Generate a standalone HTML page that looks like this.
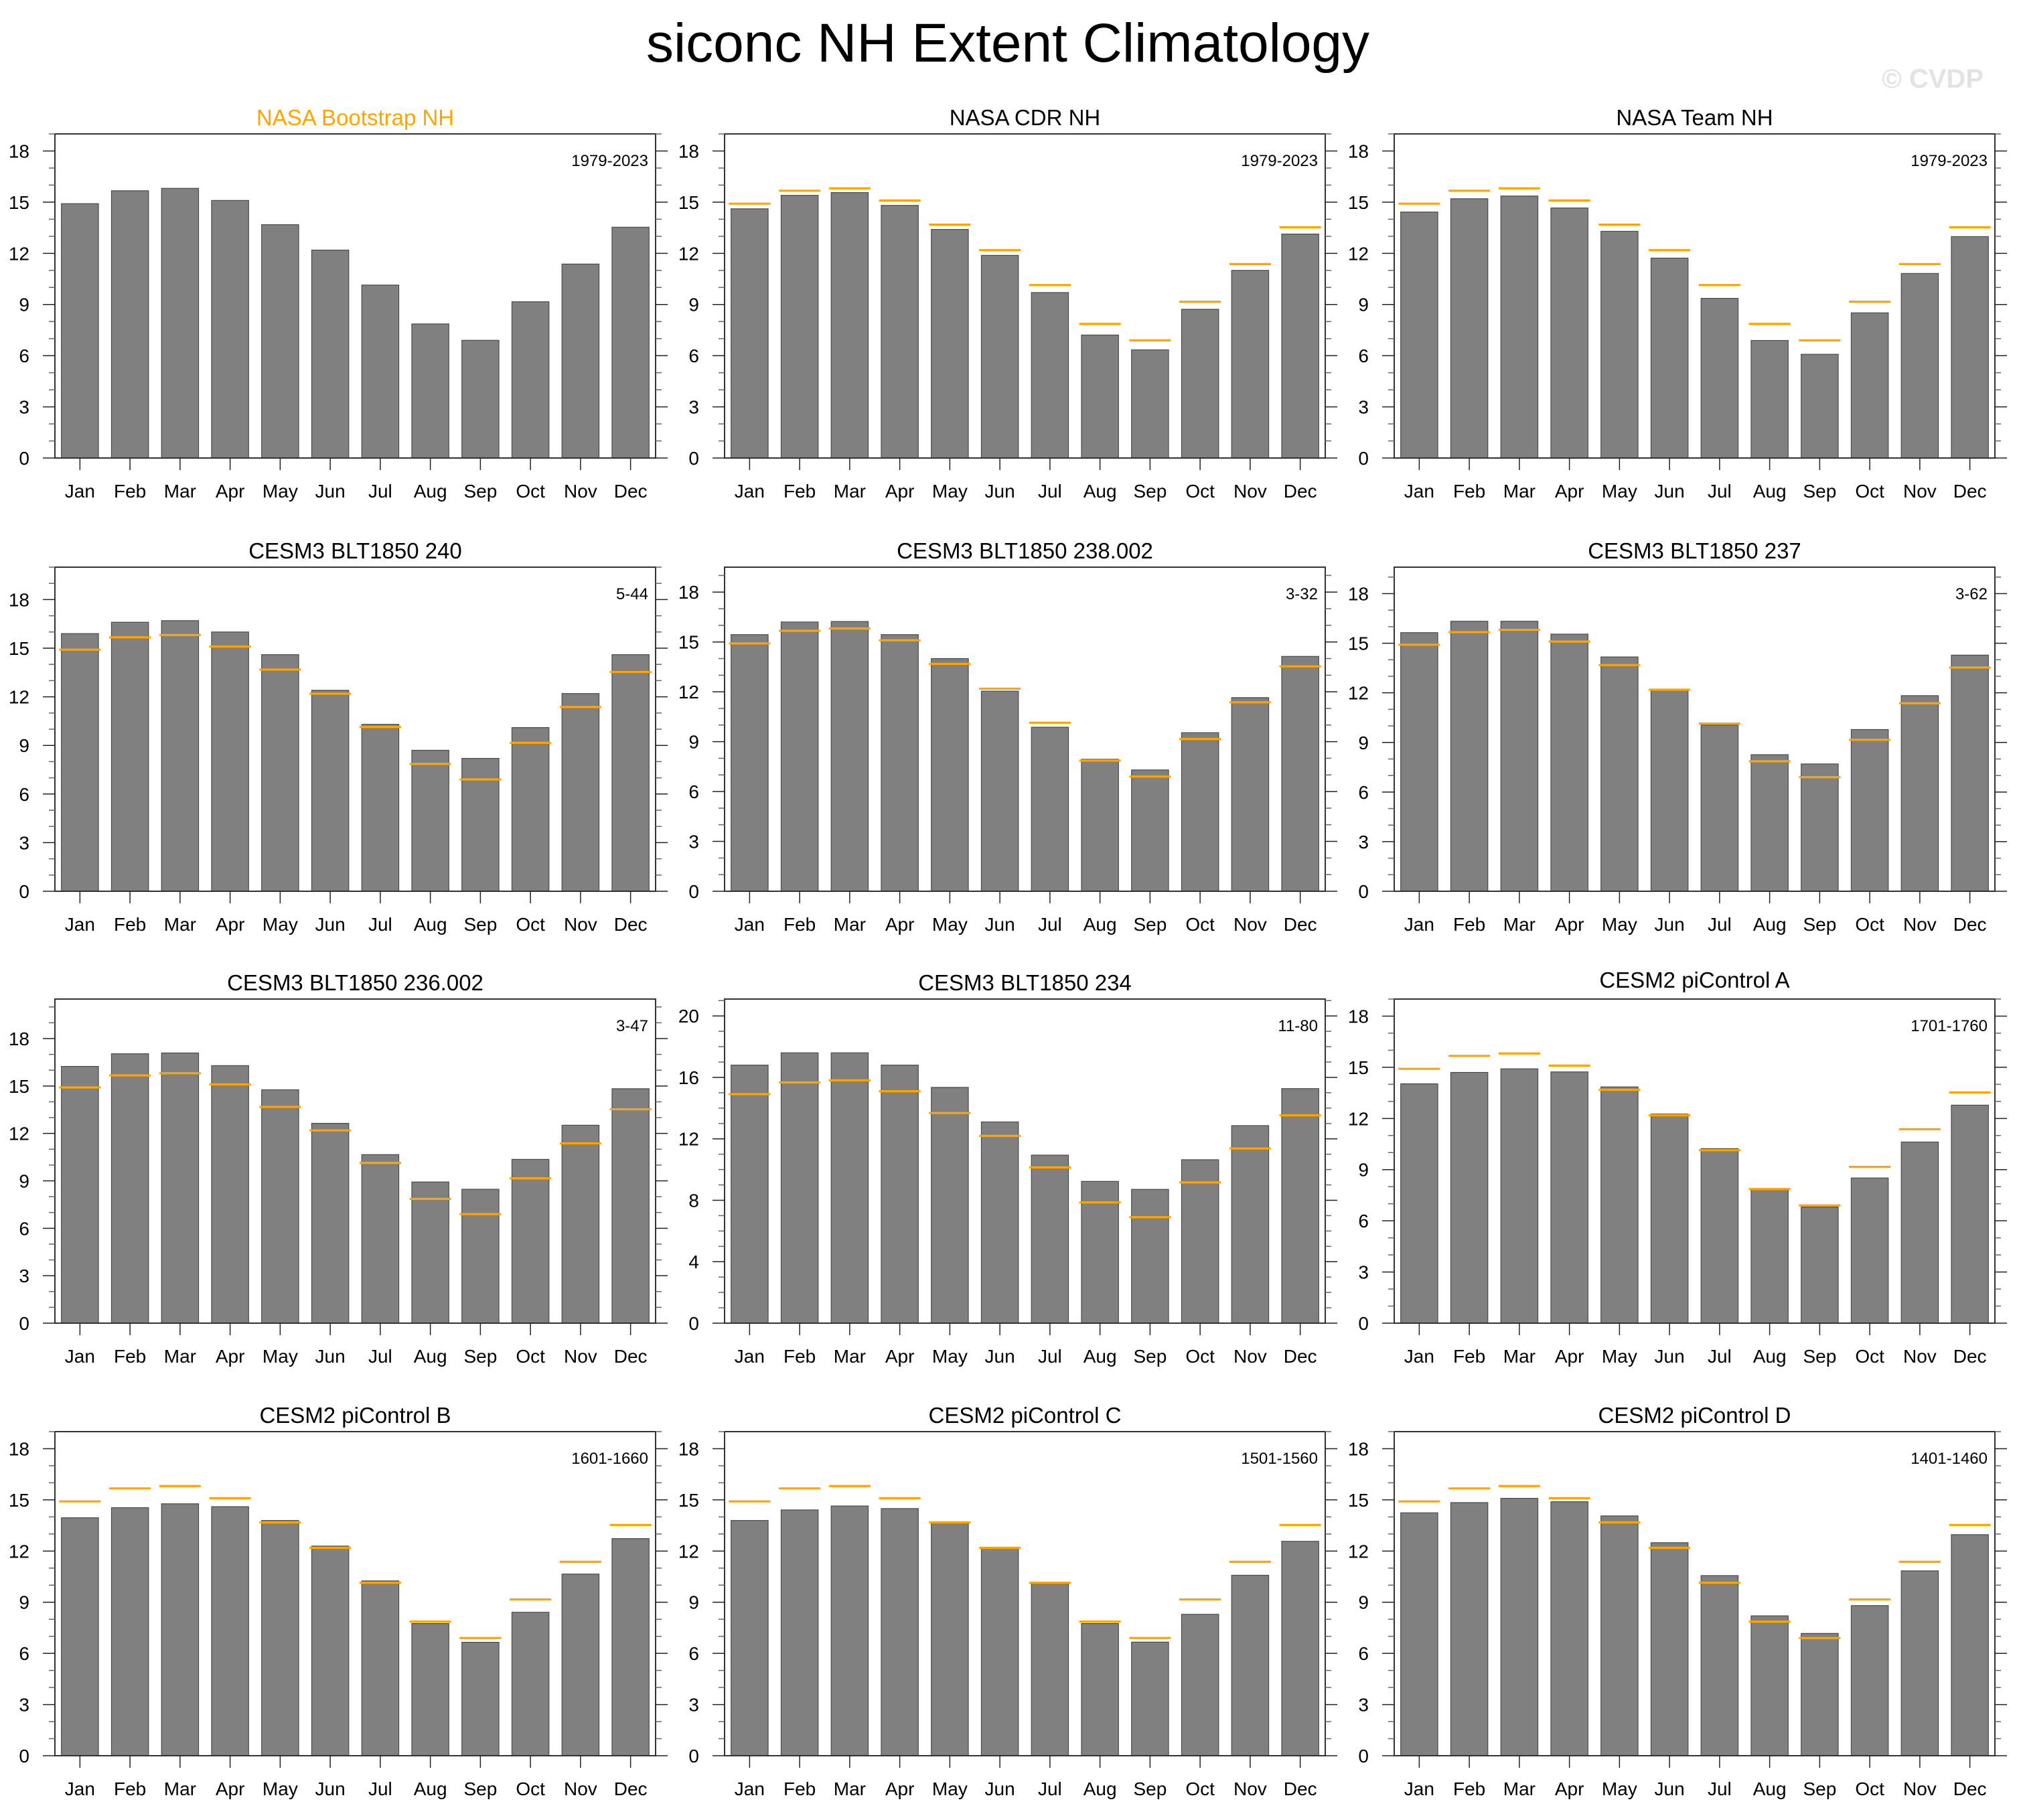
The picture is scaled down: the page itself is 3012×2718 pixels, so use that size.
<!DOCTYPE html>
<html><head><meta charset="utf-8"><style>
html,body{margin:0;padding:0;background:#fff;}
svg{display:block;font-family:"Liberation Sans",sans-serif;}
</style></head><body>
<svg id="fig" width="3012" height="2718" viewBox="0 0 3012 2718" xmlns="http://www.w3.org/2000/svg">
<text x="1505" y="92" font-size="82" text-anchor="middle" fill="#000">siconc NH Extent Climatology</text>
<text x="2962" y="131" font-size="40" font-weight="bold" text-anchor="end" fill="#e3e3e3">© CVDP</text>
</svg>
<script>
const months = ["Jan","Feb","Mar","Apr","May","Jun","Jul","Aug","Sep","Oct","Nov","Dec"];
const obsBootstrap = [14.91,15.67,15.81,15.10,13.68,12.19,10.14,7.86,6.90,9.16,11.37,13.53];
const valsBootstrap = [14.91,15.67,15.81,15.10,13.68,12.19,10.14,7.86,6.90,9.16,11.37,13.53];
const valsCDR = [14.61,15.40,15.56,14.81,13.40,11.88,9.70,7.21,6.34,8.72,11.00,13.13];
const valsTeam = [14.42,15.20,15.36,14.66,13.29,11.72,9.36,6.89,6.08,8.51,10.82,12.98];
const vals240 = [15.9,16.6,16.7,16.0,14.6,12.4,10.3,8.7,8.2,10.1,12.2,14.6];
const vals238 = [15.44,16.2,16.23,15.44,14.0,12.04,9.87,7.94,7.3,9.54,11.65,14.13];
const vals237 = [15.64,16.33,16.33,15.55,14.17,12.22,10.05,8.26,7.7,9.78,11.83,14.28];
const vals236 = [16.24,17.04,17.09,16.29,14.76,12.64,10.66,8.93,8.47,10.36,12.52,14.83];
const vals234 = [16.8,17.6,17.6,16.8,15.35,13.1,10.94,9.23,8.71,10.64,12.86,15.27];
const valsPiA = [14.03,14.70,14.91,14.73,13.85,12.26,10.23,7.86,6.81,8.51,10.62,12.78];
const valsPiB = [13.95,14.54,14.77,14.60,13.79,12.29,10.25,7.75,6.65,8.41,10.65,12.73];
const valsPiC = [13.79,14.41,14.64,14.49,13.67,12.19,10.16,7.75,6.66,8.29,10.58,12.57];
const valsPiD = [14.24,14.84,15.09,14.89,14.06,12.49,10.56,8.20,7.17,8.80,10.84,12.96];
const panelTitles = ["NASA Bootstrap NH","NASA CDR NH","NASA Team NH","CESM3 BLT1850 240","CESM3 BLT1850 238.002","CESM3 BLT1850 237","CESM3 BLT1850 236.002","CESM3 BLT1850 234","CESM2 piControl A","CESM2 piControl B","CESM2 piControl C","CESM2 piControl D"];
const panelYears = ["1979-2023","1979-2023","1979-2023","5-44","3-32","3-62","3-47","11-80","1701-1760","1601-1660","1501-1560","1401-1460"];
const panelYMax = [19,19,19,20,19.5,19.6,20.5,21.1,19,19,19,19];
const panelYStep = [3,3,3,3,3,3,3,4,3,3,3,3];
const panelValues = [valsBootstrap,valsCDR,valsTeam,vals240,vals238,vals237,vals236,vals234,valsPiA,valsPiB,valsPiC,valsPiD];

const NS="http://www.w3.org/2000/svg";
const svg=document.getElementById('fig');
function mk(tag,attrs,parent){const e=document.createElementNS(NS,tag);for(const k in attrs)e.setAttribute(k,attrs[k]);(parent||svg).appendChild(e);return e;}
const colX=[82,1082,2082], rowTop=[200,847,1492,2138], W=897, H=484;

panelValues.forEach((vals,p)=>{
  const L=colX[p%3], T=rowTop[Math.floor(p/3)], B=T+H, R=L+W;
  const ymax=panelYMax[p];
  const y=v=>B-v/ymax*H;
  const step=W/12;
  const x=i=>L+step*(i+0.5);
  const g=mk('g',{});
  
  
  const tt=mk('text',{x:L+W/2,y:T-(p===8?17:13),'font-size':33,'text-anchor':'middle',fill:p===0?'#FFA500':'#000'},g);
  tt.textContent=panelTitles[p];
  
  
  vals.forEach((v,i)=>{
    const r=mk('rect',{x:x(i)-step*0.37,y:y(v),width:step*0.74,height:B-y(v),fill:'#808080',stroke:'#4a4a4a','stroke-width':1.2},g);
    
    
  });
  if(p>0){
    obsBootstrap.forEach((v,i)=>{
      const l=mk('line',{x1:x(i)-step*0.415,x2:x(i)+step*0.415,y1:y(v),y2:y(v),stroke:'#FFA500','stroke-width':3.2},g);
      
      
    });
  }
  const f=mk('rect',{x:L,y:T,width:W,height:H,fill:'none',stroke:'#333','stroke-width':2},g);
  
  
  for(let v=0;v<=ymax+1e-6;v+=1){
    const major=(v%panelYStep[p]===0);
    const len=major?18:9;
    mk('line',{x1:L-len,x2:L,y1:y(v),y2:y(v),stroke:major?'#222':'#666','stroke-width':1.5},g);
    mk('line',{x1:R,x2:R+len,y1:y(v),y2:y(v),stroke:major?'#222':'#666','stroke-width':1.5},g);
    if(major){
      const t=mk('text',{x:L-38,y:y(v)+10,'font-size':28,'text-anchor':'end',fill:'#000'},g);
      t.textContent=String(v);
      
      
    }
  }
  months.forEach((m,i)=>{
    mk('line',{x1:x(i),x2:x(i),y1:B,y2:B+18,stroke:'#222','stroke-width':1.5},g);
    const t=mk('text',{x:x(i),y:B+59,'font-size':28,'text-anchor':'middle',fill:'#000'},g);
    t.textContent=m;
    
    
  });
  const yr=mk('text',{x:L+886,y:T+48,'font-size':24,'text-anchor':'end',fill:'#000'},g);
  yr.textContent=panelYears[p];
  
  
});
</script>
</body></html>
